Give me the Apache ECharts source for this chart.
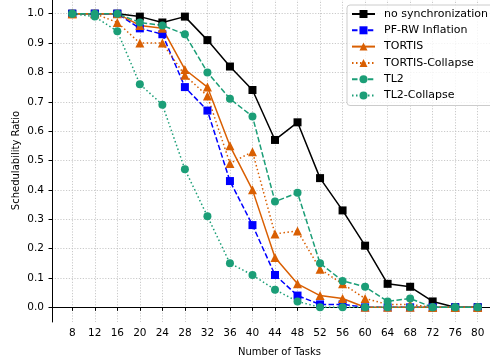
<!DOCTYPE html>
<html>
<head>
<meta charset="utf-8">
<script src="https://cdn.jsdelivr.net/npm/echarts@6/dist/echarts.min.js"></script>
<style>
  html, body { margin: 0; padding: 0; background: #fff; }
  #chart { width: 490px; height: 362px; }
</style>
</head>
<body>
<div id="chart"></div>
<script>
// number of tasks on the x axis
const tasks = [8, 12, 16, 20, 24, 28, 32, 36, 40, 44, 48, 52, 56, 60, 64, 68, 72, 76, 80]
const yTicks = [0, 0.1, 0.2, 0.3, 0.4, 0.5, 0.6, 0.7, 0.8, 0.9, 1.0]

const noSync = [1.0, 1.0, 1.0, 0.99, 0.97, 0.99, 0.91, 0.82, 0.74, 0.57, 0.63, 0.44, 0.33, 0.21, 0.08, 0.07, 0.02, 0.0, 0.0]
const pfrw = [1.0, 1.0, 1.0, 0.95, 0.93, 0.75, 0.67, 0.43, 0.28, 0.11, 0.04, 0.01, 0.01, 0.0, 0.0, 0.0, 0.0, 0.0, 0.0]
const tortis = [1.0, 1.0, 1.0, 0.96, 0.95, 0.81, 0.75, 0.55, 0.40, 0.17, 0.08, 0.04, 0.03, 0.0, 0.0, 0.0, 0.0, 0.0, 0.0]
const tortisCollapse = [1.0, 1.0, 0.97, 0.90, 0.90, 0.79, 0.72, 0.49, 0.53, 0.25, 0.26, 0.13, 0.08, 0.03, 0.01, 0.01, 0.0, 0.0, 0.0]
const tl2 = [1.0, 1.0, 1.0, 0.97, 0.96, 0.93, 0.80, 0.71, 0.65, 0.36, 0.39, 0.15, 0.09, 0.07, 0.02, 0.03, 0.0, 0.0, 0.0]
const tl2Collapse = [1.0, 0.99, 0.94, 0.76, 0.69, 0.47, 0.31, 0.15, 0.11, 0.06, 0.02, 0.0, 0.0, 0.0, 0.0, 0.0, 0.0, 0.0, 0.0]

const black = '#000000'
const blue = '#0000ff'
const orange = '#d95f02'
const green = '#1b9e77'
const dashed = [5.5, 2.4]
const dotted = [1.5, 2.5]
const font = 'DejaVu Sans'

function pairs(vals) {
  return tasks.map((t, i) => [t, vals[i]])
}

function makeSeries(name, vals, color, symbol, size, dash) {
  return {
    name: name,
    type: 'line',
    data: pairs(vals),
    symbol: symbol,
    symbolSize: size,
    showAllSymbol: true,
    animation: false,
    lineStyle: { color: color, width: 1.5, type: dash },
    itemStyle: { color: color, borderWidth: 0 },
    emphasis: { disabled: true }
  }
}

const chart = echarts.init(document.getElementById('chart'))
const options = {
  animation: false,
  grid: {
    left: 52,
    right: -17,
    top: -1,
    bottom: 40,
    outerBoundsMode: 'none'
  },
  legend: {
    orient: 'vertical',
    left: 347,
    top: 5,
    padding: [3, 14, 4, 4],
    itemWidth: 23,
    itemHeight: 10,
    itemGap: 4.3,
    borderColor: '#cccccc',
    borderWidth: 1,
    borderRadius: 3,
    backgroundColor: 'rgba(255,255,255,0.8)',
    textStyle: { fontFamily: font, fontSize: 11, color: '#000', lineHeight: 12, padding: [0, 0, 0, 4] },
    data: ['no synchronization', 'PF-RW Inflation', 'TORTIS', 'TORTIS-Collapse', 'TL2', 'TL2-Collapse']
  },
  xAxis: {
    type: 'value',
    min: 4.4,
    max: 85.2,
    name: 'Number of Tasks',
    nameLocation: 'middle',
    nameGap: 25,
    nameMoveOverlap: false,
    nameTextStyle: { fontFamily: font, fontSize: 10, color: '#000' },
    axisLine: { lineStyle: { color: '#000', width: 1 } },
    axisTick: { show: true, length: 3.5, customValues: tasks, lineStyle: { color: '#000' } },
    axisLabel: { customValues: tasks, fontFamily: font, fontSize: 10.5, color: '#000', margin: 6 },
    splitLine: { show: true, lineStyle: { color: '#bdbdbd', width: 0.8, type: [1.2, 1.6] } }
  },
  yAxis: {
    type: 'value',
    min: -0.05,
    max: 1.05,
    name: 'Schedulability Ratio',
    nameLocation: 'middle',
    nameGap: 31,
    nameMoveOverlap: false,
    nameTextStyle: { fontFamily: font, fontSize: 10, color: '#000' },
    axisLine: { show: true, lineStyle: { color: '#000', width: 1 } },
    axisTick: { show: true, length: 3.5, customValues: yTicks, lineStyle: { color: '#000' } },
    axisLabel: {
      customValues: yTicks,
      fontFamily: font,
      fontSize: 10.5,
      color: '#000',
      margin: 8,
      formatter: v => v.toFixed(1)
    },
    splitLine: { show: true, lineStyle: { color: '#bdbdbd', width: 0.8, type: [1.2, 1.6] } }
  },
  series: [
    makeSeries('no synchronization', noSync, black, 'rect', 8, 'solid'),
    makeSeries('PF-RW Inflation', pfrw, blue, 'rect', 8, dashed),
    makeSeries('TORTIS', tortis, orange, 'triangle', 9, 'solid'),
    makeSeries('TORTIS-Collapse', tortisCollapse, orange, 'triangle', 9, dotted),
    makeSeries('TL2', tl2, green, 'circle', 8, dashed),
    makeSeries('TL2-Collapse', tl2Collapse, green, 'circle', 8, dotted)
  ]
}
chart.setOption(options)
</script>
</body>
</html>
